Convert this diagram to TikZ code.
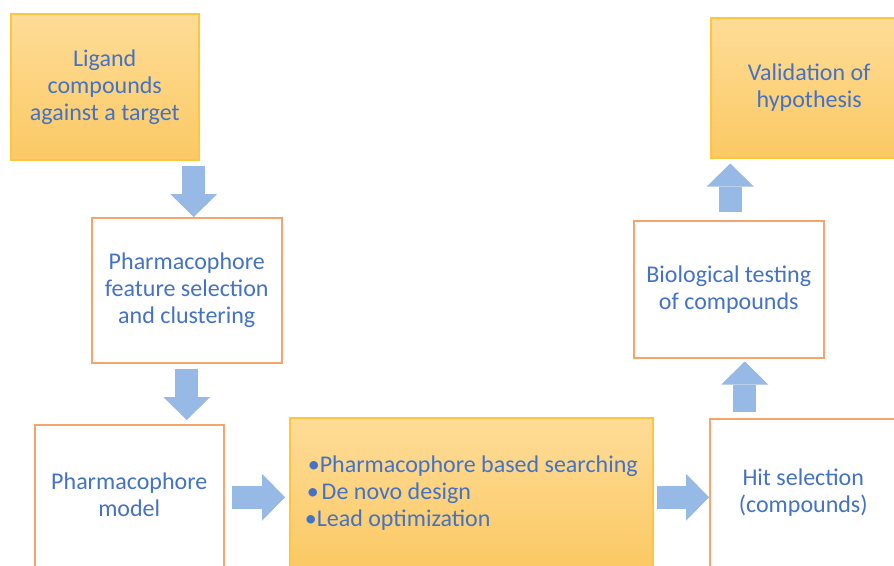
\documentclass[tikz,border=0pt]{standalone}
\usepackage{fontspec}
\setmainfont{Carlito}
\usetikzlibrary{arrows.meta}

\definecolor{txtblue}{HTML}{4472C4}
\definecolor{boxorange}{HTML}{F4A46C}
\definecolor{goldline}{HTML}{FFC53D}
\definecolor{goldtop}{HTML}{FEDC97}
\definecolor{goldbot}{HTML}{FBC964}
\definecolor{arrowblue}{HTML}{96B9E5}

\begin{document}
\begin{tikzpicture}[x=1pt,y=-1pt,
	stepbox/.style={draw=boxorange,line width=1.5pt,fill=white,text=txtblue,align=center,anchor=north west,inner sep=0pt,font=\fontsize{24}{27}\selectfont},
	goldbox/.style={stepbox,draw=goldline,top color=goldtop,bottom color=goldbot},
	blockarr/.style={arrowblue,line width=23pt,-{Triangle[length=23pt,width=47pt,line width=0pt]}}]
	\useasboundingbox (0,0) rectangle (894,565);
	\clip (0,0) rectangle (894,565);
	\fill[white] (0,0) rectangle (894,565);
	\node[goldbox,minimum width=188pt,minimum height=146pt] (ligand) at (10,13) {Ligand\\compounds\\against a target};
	\node[stepbox,minimum width=190pt,minimum height=145pt] (feature) at (91,217) {Pharmacophore\\feature selection\\and clustering};
	\node[stepbox,minimum width=189pt,minimum height=170pt,text depth=30pt] (model) at (34,424) {Pharmacophore\\model};
	\node[goldbox,minimum width=363pt,minimum height=150pt,align=left] (search) at (289,417) {\hspace*{3pt}•Pharmacophore based searching\\\hspace*{2pt}•\hspace{3pt}De novo design\\•Lead optimization};
	\node[stepbox,minimum width=187pt,minimum height=170pt,text depth=27pt] (hits) at (709,418) {Hit selection\\(compounds)};
	\node[stepbox,minimum width=190pt,minimum height=137pt] (testing) at (633,220) {Biological testing\\of compounds};
	\node[goldbox,minimum width=197pt,minimum height=140pt] (valid) at (710,17) {Validation of\\hypothesis};
	\draw[blockarr] ([xshift=7pt,yshift=-5pt]feature.north |- ligand.south) -- ([xshift=7pt]feature.north);
	\draw[blockarr] ([yshift=-5pt]feature.south) -- ([yshift=4pt]feature.south |- model.north);
	\draw[blockarr] ([xshift=7pt,yshift=-4.5pt]model.east |- search.west) -- ([xshift=-4pt,yshift=-4.5pt]search.west);
	\draw[blockarr] ([xshift=3pt,yshift=-4.5pt]search.east) -- ([yshift=-4.5pt]search.east -| hits.west);
	\draw[blockarr] ([xshift=16pt,yshift=6pt]testing.south |- hits.north) -- ([xshift=16pt,yshift=-3pt]testing.south);
	\draw[blockarr] ([xshift=1.5pt,yshift=8pt]testing.north) -- ([xshift=1.5pt,yshift=-5pt]testing.north |- valid.south);
\end{tikzpicture}
\end{document}
